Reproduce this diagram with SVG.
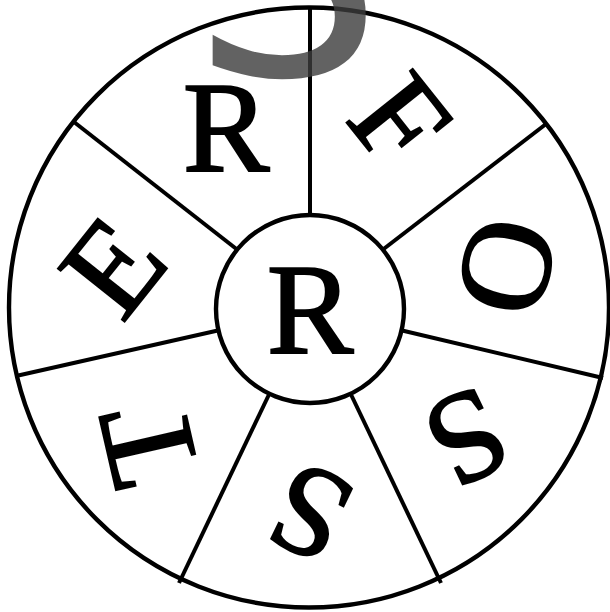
<svg xmlns="http://www.w3.org/2000/svg" width="610" height="612" viewBox="0 0 610 612">
  <style>
    .ring { fill: #fff; stroke: #000; stroke-width: 4.4; }
    .spoke { stroke: #000; stroke-width: 4; stroke-linecap: butt; }
    .letter { font-family: "Liberation Serif", "Times New Roman", serif; font-size: 130px; fill: #000; stroke: #000; stroke-width: 2; text-anchor: middle; }
    .mark { font-family: "DejaVu Sans", sans-serif; font-size: 300px; fill: rgb(60,60,60); opacity: 0.8; }
  </style>
  <rect width="610" height="612" fill="#fff"/>
  <g id="outer-ring">
    <circle class="ring" cx="309" cy="307.5" r="300"/>
  </g>
  <g id="connectors">
    <line class="spoke" x1="310" y1="6" x2="310" y2="220"/>
    <line class="spoke" x1="546" y1="124" x2="381" y2="251"/>
    <line class="spoke" x1="603" y1="378" x2="400" y2="330"/>
    <line class="spoke" x1="441" y1="583" x2="351" y2="394.5"/>
    <line class="spoke" x1="179" y1="583" x2="269" y2="394.5"/>
    <line class="spoke" x1="16" y1="376" x2="220" y2="330"/>
    <line class="spoke" x1="74" y1="122" x2="239" y2="251"/>
  </g>
  <g id="hub">
    <circle class="ring" cx="310" cy="309" r="94"/>
    <text class="letter" x="310" y="353">R</text>
  </g>
  <g id="seg-R" transform="translate(226,128)">
    <text class="letter" x="0" y="43">R</text>
  </g>
  <g id="seg-F" transform="translate(400,120.5) rotate(51.43)">
    <text class="letter" x="0" y="43">F</text>
  </g>
  <g id="seg-O" transform="translate(507.5,266.7) rotate(102.86)">
    <text class="letter" x="0" y="43">O</text>
  </g>
  <g id="seg-S1" transform="translate(466.7,437.7) rotate(154.29)">
    <text class="letter" x="0" y="43">S</text>
  </g>
  <g id="seg-S2" transform="translate(310,512.5) rotate(205.71)">
    <text class="letter" x="0" y="43">S</text>
  </g>
  <g id="seg-T" transform="translate(148.8,444.3) rotate(257.14)">
    <text class="letter" x="0" y="43">T</text>
  </g>
  <g id="seg-E" transform="translate(113.3,266.7) rotate(308.57)">
    <text class="letter" x="0" y="43">E</text>
  </g>
  <g id="watermark">
    <text class="mark" x="192" y="75">S</text>
  </g>
</svg>
